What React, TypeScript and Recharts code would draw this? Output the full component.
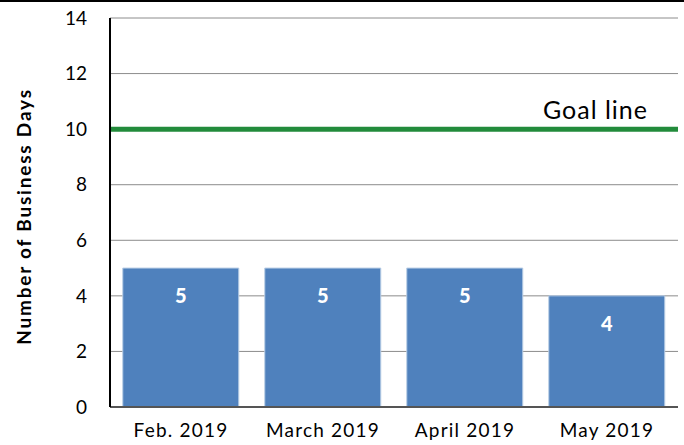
import { BarChart, Bar, XAxis, YAxis, CartesianGrid, ReferenceLine, LabelList } from "recharts";

const months = ["Feb. 2019", "March 2019", "April 2019", "May 2019"];
const businessDays = [5, 5, 5, 4];
const goal = 10;
const yTicks = [0, 2, 4, 6, 8, 10, 12, 14];

const data = months.map((m, i) => ({ month: m, days: businessDays[i] }));

const font = "Lato, 'Open Sans', sans-serif";

export default function App() {
  return (
    <div style={{ position: "absolute", left: 0, top: 0, width: 684, height: 445, background: "#fff", fontFamily: font }}>
      <div style={{ position: "absolute", left: 0, top: 0, width: 684, height: 2, background: "#000" }} />
      <BarChart
        width={684}
        height={445}
        data={data}
        margin={{ top: 18, right: 6, left: 42, bottom: 8 }}
        barCategoryGap="9%"
      >
        <CartesianGrid vertical={false} stroke="#8c8c8c" strokeWidth={1} />
        <XAxis
          dataKey="month"
          height={30}
          axisLine={{ stroke: "#555", strokeWidth: 2 }}
          tickLine={false}
          tickMargin={11}
          tick={{ fontSize: 19, fill: "#000", fontFamily: font, letterSpacing: 1.2 }}
        />
        <XAxis xAxisId="top" orientation="top" dataKey="month" height={0} tick={false} tickLine={false} axisLine={{ stroke: "#000", strokeWidth: 1.5 }} />
        <YAxis
          width={68}
          domain={[0, 14]}
          ticks={yTicks}
          interval={0}
          axisLine={{ stroke: "#000", strokeWidth: 2 }}
          tickLine={false}
          tickMargin={17}
          tick={{ fontSize: 19, fill: "#000", fontFamily: font }}
          label={{
            value: "Number of Business Days",
            angle: -90,
            position: "insideLeft",
            offset: -18,
            dy: 4,
            style: { textAnchor: "middle", fontSize: 19, fontWeight: 700, fill: "#000", fontFamily: font, letterSpacing: 1.8 },
          }}
        />
        <YAxis yAxisId="right" orientation="right" width={0} domain={[0, 14]} tick={false} tickLine={false} axisLine={{ stroke: "#000", strokeWidth: 1.5 }} />
        <Bar dataKey="days" fill="#4f81bd" stroke="#b9cde5" strokeWidth={1} isAnimationActive={false}>
          <LabelList dataKey="days" position="insideTop" offset={21} style={{ fill: "#fff", fontSize: 20, fontWeight: 900, fontFamily: font }} />
        </Bar>
        <ReferenceLine
          y={goal}
          stroke="#228b3b"
          strokeWidth={5}
          label={{ value: "Goal line", position: "insideBottomRight", offset: 10, dx: -20, style: { fontSize: 25, fill: "#000", fontFamily: font, letterSpacing: 1 } }}
        />
      </BarChart>
    </div>
  );
}
